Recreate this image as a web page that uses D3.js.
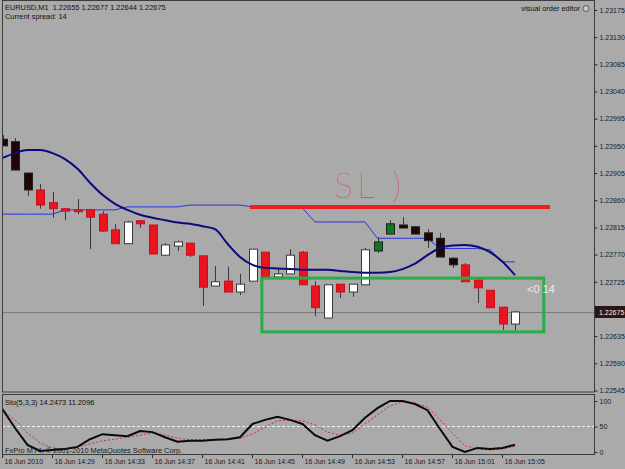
<!DOCTYPE html>
<html>
<head>
<meta charset="UTF-8">
<script src="https://cdnjs.cloudflare.com/ajax/libs/d3/7.8.5/d3.min.js"></script>
<style>
  body { margin: 0; background: #aaaaaa; }
  svg { display: block; font-family: 'Liberation Sans', Arial, sans-serif; }
  .axis text { fill: #1a1a1a; font-size: 7px; }
  .axis line { stroke: #2a2a2a; }
  .axis path { display: none; }
</style>
</head>
<body>
<svg id="chart" width="625" height="469"></svg>
<script>
// EURUSD M1, 16 Jun 2010, bars 14:25 .. 15:06
const open  = [1.22961,1.22957,1.22905,1.22877,1.22856,1.22846,1.22844,1.22844,1.22837,1.22811,1.22788,1.22826,1.22819,1.22769,1.22784,1.22789,1.22768,1.22718,1.22726,1.22708,1.22726,1.22774,1.22733,1.22738,1.22774,1.22718,1.22665,1.22721,1.22708,1.22720,1.22776,1.22804,1.22819,1.22816,1.22806,1.22797,1.22764,1.22753,1.22728,1.22711,1.22683,1.22655];
const high  = [1.22968,1.22963,1.22905,1.22887,1.22874,1.22846,1.22862,1.22844,1.22842,1.22821,1.22826,1.22826,1.22819,1.22789,1.22793,1.22789,1.22768,1.22751,1.22750,1.22738,1.22779,1.22774,1.22748,1.22779,1.22776,1.22726,1.22720,1.22721,1.22721,1.22781,1.22799,1.22827,1.22832,1.22816,1.22812,1.22806,1.22766,1.22756,1.22728,1.22711,1.22683,1.22677];
const low   = [1.22950,1.22910,1.22867,1.22846,1.22831,1.22827,1.22837,1.22779,1.22808,1.22788,1.22788,1.22814,1.22771,1.22768,1.22776,1.22766,1.22685,1.22718,1.22708,1.22703,1.22726,1.22733,1.22733,1.22738,1.22720,1.22668,1.22665,1.22698,1.22700,1.22720,1.22773,1.22804,1.22814,1.22804,1.22781,1.22766,1.22748,1.22725,1.22690,1.22682,1.22645,1.22644];
const close = [1.22950,1.22910,1.22877,1.22852,1.22846,1.22842,1.22841,1.22832,1.22809,1.22788,1.22824,1.22821,1.22771,1.22786,1.22791,1.22769,1.22716,1.22725,1.22708,1.22721,1.22779,1.22733,1.22738,1.22769,1.22720,1.22682,1.22720,1.22708,1.22721,1.22778,1.22791,1.22821,1.22814,1.22804,1.22793,1.22766,1.22753,1.22725,1.22715,1.22682,1.22655,1.22675];
// bars highlighted by the colouring indicator (dark / green)
const marked = [1,1,1,0,0,0,0,0,0,0,0,0,0,0,0,0,0,0,0,0,0,0,0,0,0,0,0,0,0,0,1,1,1,1,1,1,1,0,0,0,0,0];
// smooth moving average (thick navy)
const maLine = [1.22930,1.22938,1.22943,1.22943,1.22938,1.22928,1.22912,1.22889,1.22869,1.22854,1.22844,1.22836,1.22831,1.22827,1.22823,1.22821,1.22817,1.22812,1.22788,1.22766,1.22753,1.22748,1.22747,1.22746,1.22745,1.22745,1.22745,1.22743,1.22741,1.22740,1.22740,1.22741,1.22746,1.22755,1.22769,1.22781,1.22785,1.22786,1.22783,1.22774,1.22758,1.22736];
// stepped line (thin blue)
const stepLine = [1.22837,1.22837,1.22837,1.22837,1.22837,1.22844,1.22844,1.22844,1.22844,1.22844,1.22849,1.22849,1.22849,1.22849,1.22849,1.22852,1.22852,1.22852,1.22852,1.22852,1.22849,1.22849,1.22849,1.22849,1.22847,1.22824,1.22824,1.22824,1.22824,1.22824,1.22797,1.22797,1.22797,1.22797,1.22797,1.22780,1.22780,1.22780,1.22780,1.22778,1.22758,1.22758];
// Stochastic(5,3,3)
const stochMain   = [84,47,14,2,4,6,10,25,35,33,31,41,39,29,20,22,22,24,25,29,55,63,69,63,55,33,22,31,43,67,86,100,100,94,82,45,10,0,8,6,8,14.2473];
const stochSignal = [82,63,37,18,8,6,10,16,22,25,29,33,37,33,27,24,24,24,24,27,35,49,61,63,61,53,39,33,37,55,73,90,98,96,88,63,37,12,6,4,6,11.2096];

const timeTicks  = [0,4,8,12,16,20,24,28,32,36,40];
const timeLabels = ["16 Jun 2010","16 Jun 14:29","16 Jun 14:33","16 Jun 14:37","16 Jun 14:41","16 Jun 14:45","16 Jun 14:49","16 Jun 14:53","16 Jun 14:57","16 Jun 15:01","16 Jun 15:05"];
const priceTicks = [1.23175,1.23130,1.23085,1.23040,1.22995,1.22950,1.22905,1.22860,1.22815,1.22770,1.22725,1.22635,1.22590,1.22545];
const stochTicks = [0,50,100];

// hand-drawn objects
const slLevel = 1.22849, slFrom = 19.8, slTo = 43.8;
const box = { from: 20.75, to: 43.3, top: 1.22731, bottom: 1.22642 };
const lastPrice = 1.22675;

const svg = d3.select("#chart");
const W = 625;
const left = 2, right = 594, mainTop = 2, mainBottom = 392, stTop = 395, stBottom = 455;

const x = d3.scaleLinear().domain([0, 41]).range([2.5, 515]);
const y = d3.scaleLinear().domain([1.225425, 1.231882]).range([mainBottom, mainTop]);
const ys = d3.scaleLinear().domain([0, 100]).range([452, 401]);

svg.append("rect").attr("width", W).attr("height", 469).attr("fill", "#aaaaaa");

svg.append("clipPath").attr("id", "mainClip").append("rect")
  .attr("x", left).attr("y", mainTop).attr("width", right - left).attr("height", mainBottom - mainTop);
svg.append("clipPath").attr("id", "stClip").append("rect")
  .attr("x", left).attr("y", stTop).attr("width", right - left).attr("height", stBottom - stTop);

const main = svg.append("g").attr("clip-path", "url(#mainClip)");

// current price line
main.append("line").attr("x1", left).attr("x2", right)
  .attr("y1", Math.round(y(lastPrice)) + 0.5).attr("y2", Math.round(y(lastPrice)) + 0.5)
  .attr("stroke", "#7c7c7c");

// thin stepped line
main.append("path").datum(stepLine)
  .attr("d", d3.line().x((d, i) => x(i)).y(d => y(d)))
  .attr("fill", "none").attr("stroke", "#2a34e0").attr("stroke-width", 1);

// candles
const idx = d3.range(open.length);
const bw = 8;
const colorOf = i => {
  const up = close[i] >= open[i];
  if (marked[i]) return up ? "#0c7a22" : "#1e0606";
  return up ? "#ffffff" : "#ea1420";
};
const c = main.append("g").selectAll("g").data(idx).join("g");
c.append("line")
  .attr("x1", i => Math.round(x(i)) + 0.5).attr("x2", i => Math.round(x(i)) + 0.5)
  .attr("y1", i => y(high[i])).attr("y2", i => y(low[i]))
  .attr("stroke", "#3a3a3a");
c.append("rect")
  .attr("x", i => Math.round(x(i)) - bw / 2 + 0.5)
  .attr("y", i => y(Math.max(open[i], close[i])))
  .attr("width", bw)
  .attr("height", i => Math.max(1, Math.abs(y(open[i]) - y(close[i]))))
  .attr("fill", colorOf)
  .attr("stroke", i => (close[i] >= open[i] && !marked[i]) ? "#3a3a3a" : (marked[i] ? "#202020" : "#c8101a"));

// thick moving average
main.append("path").datum(maLine)
  .attr("d", d3.line().curve(d3.curveMonotoneX).x((d, i) => x(i)).y(d => y(d)))
  .attr("fill", "none").attr("stroke", "#0a0a7e").attr("stroke-width", 2);

// SL line and label
main.append("line")
  .attr("x1", x(slFrom)).attr("x2", x(slTo)).attr("y1", y(slLevel)).attr("y2", y(slLevel))
  .attr("stroke", "#ee1c24").attr("stroke-width", 4);
main.append("text").attr("x", 334).attr("y", 198)
  .attr("fill", "#e8202a").attr("font-family", "Lato, 'DejaVu Sans', sans-serif")
  .attr("font-weight", 100).attr("font-size", 36).attr("letter-spacing", 4)
  .text("SL )");

// green box
main.append("rect")
  .attr("x", x(box.from)).attr("y", y(box.top))
  .attr("width", x(box.to) - x(box.from)).attr("height", y(box.bottom) - y(box.top))
  .attr("fill", "none").attr("stroke", "#27ae48").attr("stroke-width", 3);

main.append("text").attr("x", 527).attr("y", 293)
  .attr("fill", "#ececec").attr("font-size", 11).text("<0 14");

// header texts
svg.append("text").attr("x", 5).attr("y", 10).attr("fill", "#101010").attr("font-size", 7.4)
  .style("white-space", "pre").text("EURUSD,M1  1.22655 1.22677 1.22644 1.22675");
svg.append("text").attr("x", 5).attr("y", 18.5).attr("fill", "#101010").attr("font-size", 7.4)
  .text("Current spread: 14");
svg.append("text").attr("x", 580).attr("y", 11).attr("text-anchor", "end")
  .attr("fill", "#101010").attr("font-size", 7.4).text("visual order editor");
svg.append("circle").attr("cx", 586).attr("cy", 8.5).attr("r", 3)
  .attr("fill", "#c8c8c8").attr("stroke", "#404040").attr("stroke-width", 0.8);

// stochastic
const st = svg.append("g").attr("clip-path", "url(#stClip)");
st.append("line").attr("x1", left).attr("x2", right).attr("y1", ys(50)).attr("y2", ys(50))
  .attr("stroke", "#f4f4f4").attr("stroke-dasharray", "3,2");
st.append("path").datum(stochSignal)
  .attr("d", d3.line().x((d, i) => x(i)).y(d => ys(d)))
  .attr("fill", "none").attr("stroke", "#e8202a").attr("stroke-width", 1).attr("stroke-dasharray", "2,2");
st.append("path").datum(stochMain)
  .attr("d", d3.line().x((d, i) => x(i)).y(d => ys(d)))
  .attr("fill", "none").attr("stroke", "#0a0a0a").attr("stroke-width", 2);
svg.append("text").attr("x", 5).attr("y", 405).attr("fill", "#101010").attr("font-size", 7.4)
  .text("Sto(5,3,3) 14.2473 11.2096");
svg.append("text").attr("x", 5).attr("y", 452.5).attr("fill", "#1a1a1a").attr("font-size", 7.4)
  .text("FxPro MT4, © 2001-2010 MetaQuotes Software Corp.");

// borders
const frame = svg.append("g").attr("fill", "none").attr("stroke", "#3c3c3c");
frame.append("rect").attr("x", left + 0.5).attr("y", mainTop - 1.5).attr("width", right - left).attr("height", mainBottom - mainTop + 1.5);
frame.append("rect").attr("x", left + 0.5).attr("y", stTop - 0.5).attr("width", right - left).attr("height", stBottom - stTop);

// price axis
svg.append("g").attr("class", "axis").attr("transform", `translate(${right + 0.5},0)`)
  .call(d3.axisRight(y).tickValues(priceTicks).tickFormat(d3.format(".5f")).tickSize(3).tickPadding(2));

// current price marker
const ly = Math.round(y(lastPrice));
svg.append("rect").attr("x", right + 1).attr("y", ly - 6).attr("width", W - right - 1).attr("height", 12).attr("fill", "#2a1616");
svg.append("text").attr("x", right + 5).attr("y", ly + 3).attr("fill", "#f0f0f0").attr("font-size", 7).text(d3.format(".5f")(lastPrice));

// stochastic axis
svg.append("g").attr("class", "axis").attr("transform", `translate(${right + 0.5},0)`)
  .call(d3.axisRight(ys).tickValues(stochTicks).tickSize(3).tickPadding(2));

// time axis
const tAxis = svg.append("g").attr("class", "axis").attr("transform", `translate(0,${stBottom})`)
  .call(d3.axisBottom(x).tickValues(timeTicks).tickFormat((d, i) => timeLabels[i]).tickSize(3).tickPadding(1));
tAxis.selectAll("text").attr("text-anchor", "start").attr("dx", 2).attr("font-size", 7.5);
tAxis.selectAll(".tick").attr("transform", d => `translate(${Math.round(x(d)) + 0.5 - 1},0)`);
</script>
</body>
</html>
